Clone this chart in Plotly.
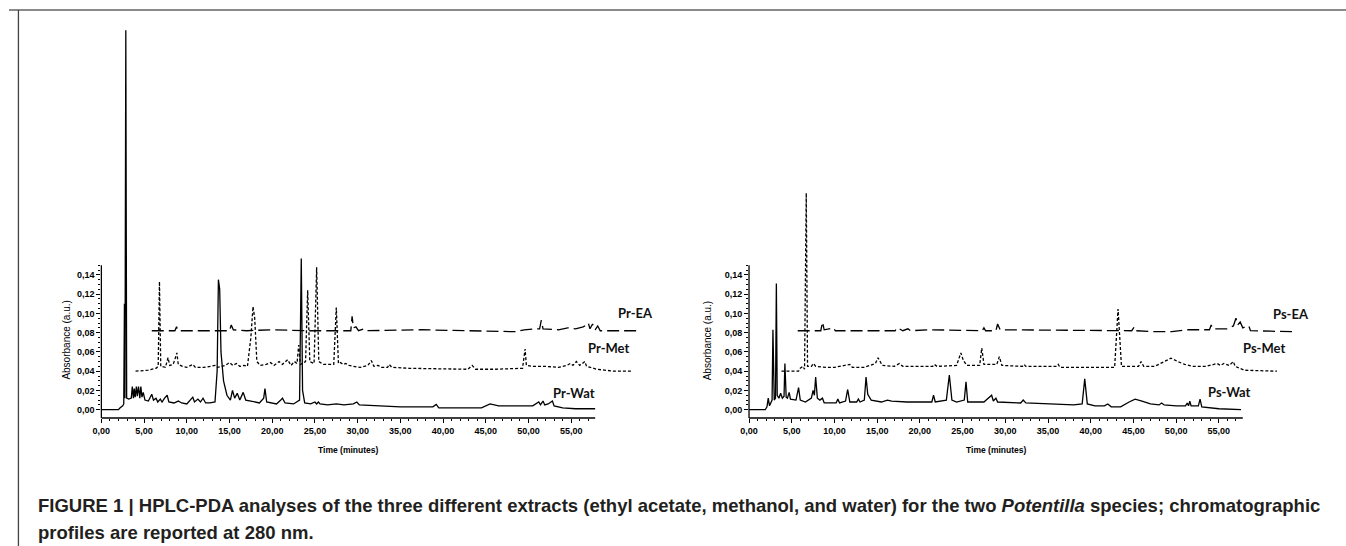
import plotly.graph_objects as go

# ---------------- data (time in minutes, absorbance in a.u.) ----------------
pr_wat_t = [0.0, 2.0, 2.2, 2.5, 2.62, 2.70, 2.76, 2.86, 2.96, 3.2, 3.5, 3.62, 3.75, 3.85, 3.95, 4.1, 4.2, 4.35, 4.5,
            4.62, 4.75, 4.9, 5.1, 5.5, 5.9, 6.1, 6.4, 6.6, 6.9, 7.1, 7.4, 7.7, 7.9, 8.5, 9.0, 9.4, 10.0, 10.5, 10.7,
            10.9, 11.3, 11.6, 11.9, 12.2, 12.7, 13.3, 13.55, 13.7, 13.85, 14.0, 14.3, 14.7, 15.1, 15.35, 15.6, 15.9,
            16.2, 16.6, 16.9, 17.5, 18.5, 19.0, 19.15, 19.35, 20.5, 21.0, 21.2, 21.5, 22.5, 23.2, 23.4, 23.55, 23.8,
            24.5, 25.0, 25.2, 25.4, 25.6, 26.5, 27.5, 28.4, 29.5, 29.9, 30.2, 32.0, 35.0, 38.8, 39.2, 39.5, 40.0,
            44.5, 45.5, 46.5, 48.0, 50.5, 51.2, 51.4, 51.7, 51.9, 52.3, 52.8, 53.0, 54.0, 55.5, 57.8]
pr_wat_a = [0.000, 0.000, 0.002, 0.004, 0.006, 0.110, 0.012, 0.394, 0.012, 0.011, 0.012, 0.024, 0.012, 0.022, 0.013,
            0.024, 0.014, 0.024, 0.012, 0.024, 0.013, 0.018, 0.010, 0.009, 0.016, 0.010, 0.012, 0.008, 0.011, 0.008,
            0.012, 0.015, 0.008, 0.007, 0.009, 0.007, 0.006, 0.011, 0.013, 0.008, 0.011, 0.008, 0.012, 0.007, 0.007,
            0.008, 0.040, 0.135, 0.125, 0.060, 0.030, 0.015, 0.010, 0.020, 0.012, 0.017, 0.010, 0.018, 0.010, 0.009,
            0.007, 0.012, 0.022, 0.008, 0.006, 0.010, 0.012, 0.007, 0.006, 0.010, 0.157, 0.020, 0.007, 0.006, 0.008,
            0.006, 0.008, 0.006, 0.005, 0.006, 0.005, 0.006, 0.008, 0.005, 0.004, 0.003, 0.003, 0.0055, 0.002, 0.002,
            0.002, 0.006, 0.004, 0.004, 0.004, 0.008, 0.005, 0.009, 0.005, 0.006, 0.009, 0.004, 0.002, 0.001, 0.001]

pr_met_t = [4.0, 5.5, 6.4, 6.65, 6.8, 6.95, 7.5, 7.8, 8.0, 8.4, 8.6, 8.84, 9.0, 9.5, 10.0, 10.7, 11.0, 12.0, 12.8,
            13.3, 13.6, 14.5, 15.0, 15.4, 15.8, 16.2, 16.7, 17.1, 17.5, 17.75, 17.95, 18.2, 18.6, 19.3, 19.8, 20.2,
            20.8, 21.2, 21.8, 22.2, 22.6, 22.9, 23.1, 23.3, 23.9, 24.15, 24.4, 24.9, 25.2, 25.45, 26.0, 27.2, 27.5,
            27.75, 28.0, 28.3, 28.6, 29.0, 29.5, 30.3, 31.2, 31.6, 31.9, 32.4, 32.8, 33.5, 33.7, 34.0, 36.0, 40.0,
            42.9, 43.4, 43.8, 46.0, 49.3, 49.6, 49.75, 50.5, 52.0, 53.5, 54.5, 54.9, 55.2, 55.6, 56.0, 56.6, 56.8,
            58.0, 60.0, 62.0]
pr_met_a = [0.040, 0.041, 0.043, 0.045, 0.133, 0.045, 0.044, 0.054, 0.046, 0.047, 0.052, 0.059, 0.047, 0.045, 0.044,
            0.047, 0.044, 0.044, 0.045, 0.046, 0.044, 0.046, 0.049, 0.046, 0.048, 0.045, 0.046, 0.045, 0.075, 0.107,
            0.095, 0.050, 0.046, 0.047, 0.049, 0.046, 0.050, 0.047, 0.052, 0.046, 0.050, 0.048, 0.067, 0.047, 0.050,
            0.124, 0.050, 0.048, 0.148, 0.050, 0.047, 0.047, 0.106, 0.048, 0.049, 0.047, 0.048, 0.046, 0.045, 0.044,
            0.046, 0.051, 0.045, 0.046, 0.044, 0.044, 0.047, 0.044, 0.043, 0.042, 0.042, 0.046, 0.042, 0.042, 0.043,
            0.063, 0.046, 0.045, 0.045, 0.044, 0.046, 0.048, 0.046, 0.050, 0.046, 0.050, 0.045, 0.042, 0.040, 0.040]

pr_ea_t = [5.9, 8.6, 8.8, 9.0, 15.0, 15.2, 15.45, 17.0, 19.8, 24.0, 29.2, 29.35, 29.5, 29.8, 30.1, 30.8, 31.1, 35.5,
           37.4, 48.5, 49.5, 50.8, 51.3, 51.5, 51.7, 53.5, 54.6, 55.5, 56.4, 56.8, 57.0, 57.2, 57.5, 57.8, 58.1,
           58.4, 63.0]
pr_ea_a = [0.082, 0.082, 0.086, 0.082, 0.082, 0.088, 0.083, 0.082, 0.083, 0.082, 0.082, 0.097, 0.085, 0.086, 0.082,
           0.084, 0.082, 0.083, 0.083, 0.081, 0.083, 0.084, 0.084, 0.093, 0.084, 0.083, 0.085, 0.084, 0.086, 0.088,
           0.090, 0.084, 0.089, 0.083, 0.087, 0.082, 0.082]

ps_wat_t = [0.0, 1.9, 2.1, 2.25, 2.4, 2.7, 2.8, 2.95, 3.1, 3.2, 3.3, 3.5, 3.7, 3.9, 4.1, 4.2, 4.35, 4.5, 4.7, 4.85,
            5.5, 5.8, 6.0, 6.6, 7.3, 7.5, 7.65, 7.8, 8.0, 8.3, 8.6, 8.8, 10.2, 10.4, 10.6, 11.3, 11.55, 11.8, 12.6,
            12.8, 13.0, 13.5, 13.7, 13.9, 14.3, 15.5, 16.2, 16.7, 18.5, 21.4, 21.6, 21.8, 23.1, 23.45, 23.75, 24.3,
            25.2, 25.4, 25.6, 27.5, 28.4, 28.6, 28.9, 29.1, 31.8, 32.1, 32.4, 35.0, 38.0, 39.0, 39.3, 39.6, 40.5,
            41.6, 42.0, 42.4, 43.5, 44.5, 45.2, 46.0, 47.0, 48.0, 48.3, 48.6, 50.0, 51.1, 51.3, 51.45, 51.6, 51.75,
            52.6, 52.8, 53.0, 55.0, 57.6]
ps_wat_a = [0.000, 0.000, 0.003, 0.012, 0.004, 0.010, 0.083, 0.010, 0.012, 0.131, 0.015, 0.012, 0.017, 0.012, 0.014,
            0.048, 0.013, 0.012, 0.018, 0.011, 0.010, 0.023, 0.010, 0.008, 0.012, 0.020, 0.015, 0.034, 0.012, 0.010,
            0.012, 0.007, 0.007, 0.011, 0.007, 0.009, 0.021, 0.008, 0.008, 0.011, 0.008, 0.010, 0.034, 0.016, 0.010,
            0.008, 0.010, 0.009, 0.008, 0.008, 0.015, 0.008, 0.010, 0.036, 0.010, 0.008, 0.010, 0.029, 0.008, 0.008,
            0.015, 0.009, 0.012, 0.008, 0.007, 0.010, 0.007, 0.006, 0.005, 0.006, 0.032, 0.006, 0.004, 0.004, 0.006,
            0.003, 0.003, 0.008, 0.011, 0.009, 0.006, 0.005, 0.007, 0.005, 0.004, 0.004, 0.007, 0.004, 0.009, 0.004,
            0.004, 0.011, 0.003, 0.001, 0.000]

ps_met_t = [3.8, 5.8, 6.0, 6.3, 6.5, 6.7, 6.85, 7.3, 7.55, 7.8, 9.0, 10.0, 11.8, 12.1, 13.5, 14.8, 15.1, 15.3, 15.6,
            17.0, 17.6, 18.0, 21.5, 21.7, 22.0, 24.3, 24.8, 25.1, 25.5, 27.0, 27.25, 27.5, 29.0, 29.3, 29.6, 32.0,
            32.2, 32.4, 36.0, 36.2, 36.4, 42.8, 43.2, 43.6, 45.6, 45.9, 46.2, 47.5, 48.6, 49.4, 50.2, 51.0, 52.0,
            53.5, 54.4, 54.8, 55.2, 55.6, 56.2, 56.7, 56.9, 58.0, 61.8]
ps_met_a = [0.040, 0.040, 0.043, 0.045, 0.042, 0.225, 0.045, 0.045, 0.048, 0.045, 0.044, 0.044, 0.047, 0.044, 0.044,
            0.048, 0.054, 0.051, 0.046, 0.045, 0.048, 0.045, 0.045, 0.047, 0.045, 0.046, 0.059, 0.051, 0.046, 0.046,
            0.064, 0.047, 0.047, 0.055, 0.046, 0.045, 0.047, 0.045, 0.045, 0.047, 0.044, 0.044, 0.1045, 0.045, 0.045,
            0.050, 0.045, 0.045, 0.050, 0.0535, 0.050, 0.047, 0.045, 0.045, 0.047, 0.048, 0.046, 0.048, 0.046, 0.050,
            0.045, 0.041, 0.040]

ps_ea_t = [5.7, 8.4, 8.6, 8.8, 9.9, 10.1, 17.1, 17.3, 17.6, 18.0, 18.6, 18.9, 21.3, 27.3, 27.5, 27.7, 28.9, 29.1,
           29.4, 44.8, 45.1, 45.3, 47.5, 49.5, 51.4, 53.9, 54.1, 54.3, 56.0, 56.7, 57.0, 57.2, 57.5, 57.8, 58.5,
           58.7, 63.7]
ps_ea_a = [0.082, 0.082, 0.091, 0.083, 0.085, 0.082, 0.082, 0.085, 0.084, 0.082, 0.084, 0.082, 0.083, 0.082, 0.085,
           0.082, 0.082, 0.089, 0.083, 0.082, 0.086, 0.082, 0.081, 0.081, 0.083, 0.083, 0.088, 0.084, 0.084, 0.087,
           0.095, 0.088, 0.091, 0.085, 0.087, 0.082, 0.081]

y_tick_vals = [0.00, 0.02, 0.04, 0.06, 0.08, 0.10, 0.12, 0.14]
y_tick_text = ["0,00", "0,02", "0,04", "0,06", "0,08", "0,10", "0,12", "0,14"]
x_tick_vals = [0, 5, 10, 15, 20, 25, 30, 35, 40, 45, 50, 55]
x_tick_text = ["0,00", "5,00", "10,00", "15,00", "20,00", "25,00", "30,00", "35,00", "40,00", "45,00", "50,00", "55,00"]

labels_left = [("Pr-EA", 62.5, 0.1006), ("Pr-Met", 59.4, 0.0643), ("Pr-Wat", 55.3, 0.0176)]
labels_right = [("Ps-EA", 63.4, 0.0996), ("Ps-Met", 60.3, 0.0643), ("Ps-Wat", 56.3, 0.0187)]

# ---------------- figure ----------------
W, H = 1346, 546
X_MAX = 66.0
Y_MIN, Y_MAX = -0.0086, 0.4046
AXIS_END_T = 57.8
AXIS_TOP_A = 0.150

fig = go.Figure()

ea_dash = "12px,5px"
met_dash = "3px,2px"
lw = 1.3

for (t, a, dash, ax) in [
    (pr_ea_t, pr_ea_a, ea_dash, ("x", "y")),
    (pr_met_t, pr_met_a, met_dash, ("x", "y")),
    (pr_wat_t, pr_wat_a, "solid", ("x", "y")),
    (ps_ea_t, ps_ea_a, ea_dash, ("x2", "y2")),
    (ps_met_t, ps_met_a, met_dash, ("x2", "y2")),
    (ps_wat_t, ps_wat_a, "solid", ("x2", "y2")),
]:
    fig.add_trace(go.Scatter(x=t, y=a, mode="lines", xaxis=ax[0], yaxis=ax[1],
                             line=dict(color="black", width=lw, dash=dash),
                             hoverinfo="skip", showlegend=False))

tick_font = dict(family="Liberation Sans, Arial, sans-serif", size=9, color="black", weight="bold")
x_minor = [v for v in range(1, 58) if v % 5 != 0]
y_minor = [round(0.005 * k, 3) for k in range(1, 31) if k % 4 != 0]

x_px_per_min = 8.6
left_x0 = 93
right_x0 = 745
dom_l = [left_x0 / W, (left_x0 + X_MAX * x_px_per_min) / W]
dom_r = [right_x0 / W, (right_x0 + X_MAX * x_px_per_min) / W]
y_dom = [(H - 418) / H, (H - 20) / H]

def xaxis_cfg(domain, anchor):
    return dict(domain=domain, anchor=anchor, range=[0, X_MAX], showgrid=False, zeroline=False,
                showline=False, tickmode="array", tickvals=x_tick_vals, ticktext=x_tick_text,
                ticks="outside", ticklen=4, tickwidth=1, tickcolor="black", tickfont=tick_font,
                minor=dict(tickmode="array", tickvals=x_minor, ticks="outside", ticklen=2,
                           tickwidth=1, tickcolor="black"))

def yaxis_cfg(anchor):
    return dict(domain=y_dom, anchor=anchor, range=[Y_MIN, Y_MAX], showgrid=False, zeroline=False,
                showline=False, tickmode="array", tickvals=y_tick_vals, ticktext=y_tick_text,
                ticks="outside", ticklen=4, tickwidth=1, tickcolor="black", tickfont=tick_font,
                minor=dict(tickmode="array", tickvals=y_minor, ticks="outside", ticklen=2,
                           tickwidth=1, tickcolor="black"))

fig.update_layout(
    width=W, height=H, margin=dict(l=0, r=0, t=0, b=0),
    paper_bgcolor="white", plot_bgcolor="rgba(0,0,0,0)", showlegend=False,
    xaxis=xaxis_cfg(dom_l, "y"), yaxis=yaxis_cfg("x"),
    xaxis2=xaxis_cfg(dom_r, "y2"), yaxis2=yaxis_cfg("x2"),
)

shapes = []
for xr, yr in [("x", "y"), ("x2", "y2")]:
    shapes.append(dict(type="line", xref=xr, yref=yr + " domain", x0=0, x1=AXIS_END_T, y0=0, y1=0,
                       line=dict(color="black", width=1.3)))
    shapes.append(dict(type="line", xref=xr + " domain", yref=yr, x0=0, x1=0, y0=Y_MIN, y1=AXIS_TOP_A,
                       line=dict(color="black", width=1.3)))
# figure frame
top_y = 1 - 10 / H
shapes.append(dict(type="line", xref="paper", yref="paper", x0=0, x1=1, y0=top_y, y1=top_y,
                   line=dict(color="#8a8a8a", width=2)))
shapes.append(dict(type="line", xref="paper", yref="paper", x0=9.5 / W, x1=9.5 / W, y0=0, y1=top_y,
                   line=dict(color="#444444", width=1.3)))
fig.update_layout(shapes=shapes)

ann = []
lab_font = dict(family="Lato, Open Sans, sans-serif", size=13, color="#111111", weight="bold")
for (txt, t, a) in labels_left:
    ann.append(dict(text=txt, x=t, y=a, xref="x", yref="y", showarrow=False, font=lab_font,
                    xanchor="center", yanchor="middle"))
for (txt, t, a) in labels_right:
    ann.append(dict(text=txt, x=t, y=a, xref="x2", yref="y2", showarrow=False, font=lab_font,
                    xanchor="center", yanchor="middle"))

ytitle_font = dict(family="Liberation Sans, Arial, sans-serif", size=10, color="black")
for xc in [57, 703]:
    ann.append(dict(text="Absorbance (a.u.)", x=xc / W, y=(H - 340) / H, xref="paper", yref="paper",
                    textangle=-90, showarrow=False, font=ytitle_font, xanchor="center", yanchor="middle"))
xtitle_font = dict(family="Liberation Sans, Arial, sans-serif", size=8.5, color="black", weight="bold")
for xc in [341, 993.5]:
    ann.append(dict(text="Time (minutes)", x=xc / W, y=(H - 450) / H, xref="paper", yref="paper",
                    showarrow=False, font=xtitle_font, xanchor="center", yanchor="middle"))

cap_font = dict(family="Liberation Sans, Arial, sans-serif", size=18.5, color="#231f20", weight="bold")
ann.append(dict(text="FIGURE 1 | HPLC-PDA analyses of the three different extracts (ethyl acetate, methanol, and water) "
                     "for the two <i>Potentilla</i> species; chromatographic",
                x=27 / W, y=(H - 505) / H, xref="paper", yref="paper", showarrow=False, font=cap_font,
                xanchor="left", yanchor="middle"))
ann.append(dict(text="profiles are reported at 280 nm.",
                x=27 / W, y=(H - 532) / H, xref="paper", yref="paper", showarrow=False, font=cap_font,
                xanchor="left", yanchor="middle"))
fig.update_layout(annotations=ann)

fig.write_html("out.html", config={"displayModeBar": False},
               post_script="document.body.style.margin='0';document.body.style.padding='0';")
